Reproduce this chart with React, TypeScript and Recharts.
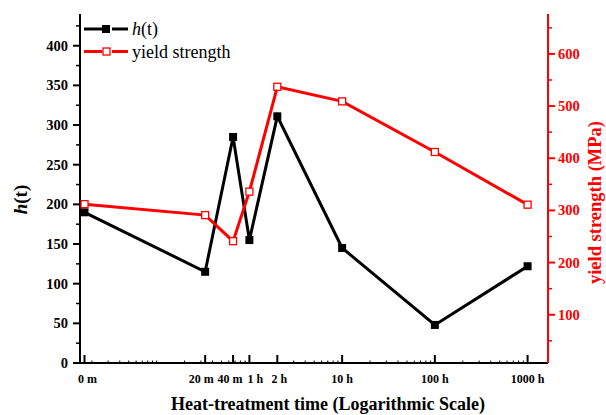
import React from 'react';
import { LineChart, Line, XAxis, YAxis, Legend, Label } from 'recharts';

// ---- data ----
const timeLabels = ['0 m', '20 m', '40 m', '1 h', '2 h', '10 h', '100 h', '1000 h'];
const timeHours = [1 / 60, 1 / 3, 2 / 3, 1, 2, 10, 100, 1000];
const hValues = [190, 115, 285, 155, 311, 145, 48, 122];
const yieldValues = [312, 291, 241, 336, 537, 509, 412, 311];

const minorHours = [
  0.02, 0.03, 0.04, 0.05, 0.06, 0.07, 0.08, 0.09,
  0.1, 0.2, 0.3, 0.4, 0.5, 0.6, 0.7, 0.8, 0.9,
  3, 4, 5, 6, 7, 8, 9,
  20, 30, 40, 50, 60, 70, 80, 90,
  200, 300, 400, 500, 600, 700, 800, 900,
];
const leftTicks = [0, 25, 50, 75, 100, 125, 150, 175, 200, 225, 250, 275, 300, 325, 350, 375, 400, 425];
const rightTicks = [50, 100, 150, 200, 250, 300, 350, 400, 450, 500, 550, 600, 650];

const xDomain = [0.0149, 1660];
const leftDomain = [0, 440];
const rightDomain = [7.5, 676.5];

const data = timeHours.map((t, i) => ({ t, h: hValues[i], ys: yieldValues[i] }));
const xTicks = [...timeHours, ...minorHours].sort((a, b) => a - b);

const SERIF = '"Liberation Serif", "Times New Roman", serif';
const RED = '#ff0000';

// horizontal nudges of crowded tick labels (style only)
const labelNudge: Record<string, number> = { '0 m': 3, '20 m': -4, '40 m': -3, '1 h': 6, '2 h': 2 };

const XTickBottom = (props: any) => {
  const { x, y, payload } = props;
  const idx = timeHours.indexOf(payload.value);
  if (idx >= 0) {
    const lbl = timeLabels[idx];
    return (
      <g>
        <line x1={x} x2={x} y1={y} y2={y - 8} stroke="#000" strokeWidth={2} />
        <text x={x + (labelNudge[lbl] || 0)} y={y + 20} textAnchor="middle" fontFamily={SERIF} fontWeight="bold" fontSize={12} fill="#000">
          {lbl}
        </text>
      </g>
    );
  }
  return <line x1={x} x2={x} y1={y} y2={y - 2.5} stroke="#000" strokeWidth={1} />;
};

const XTickTop = (props: any) => {
  const { x, y } = props;
  return <line x1={x} x2={x} y1={y} y2={y + 2.5} stroke="#000" strokeWidth={1} />;
};

const LeftTick = (props: any) => {
  const { x, y, payload } = props;
  const v = payload.value;
  if (v % 50 === 0) {
    return (
      <g>
        <line x1={x} x2={x - 7} y1={y} y2={y} stroke="#000" strokeWidth={2} />
        <text x={x - 12} y={y + 5} textAnchor="end" fontFamily={SERIF} fontWeight="bold" fontSize={14.5} fill="#000">
          {v}
        </text>
      </g>
    );
  }
  return <line x1={x} x2={x - 4} y1={y} y2={y} stroke="#000" strokeWidth={1.5} />;
};

const RightTick = (props: any) => {
  const { x, y, payload } = props;
  const v = payload.value;
  if (v % 100 === 0) {
    return (
      <g>
        <line x1={x} x2={x + 7} y1={y} y2={y} stroke={RED} strokeWidth={2} />
        <text x={x + 10} y={y + 5} textAnchor="start" fontFamily={SERIF} fontWeight="bold" fontSize={14.5} fill={RED}>
          {v}
        </text>
      </g>
    );
  }
  return <line x1={x} x2={x + 4} y1={y} y2={y} stroke={RED} strokeWidth={1.5} />;
};

const BlackDot = (p: any) => (
  <rect key={`b${p.index}`} x={p.cx - 4} y={p.cy - 4} width={8} height={8} fill="#000" />
);
const RedDot = (p: any) => (
  <rect key={`r${p.index}`} x={p.cx - 3.5} y={p.cy - 3.5} width={7} height={7} fill="#fff" stroke={RED} strokeWidth={1.3} />
);

const renderLegend = () => (
  <svg width={200} height={50} style={{ display: 'block' }}>
    <g>
      <line x1={2} x2={20} y1={11} y2={11} stroke="#000" strokeWidth={3} />
      <rect x={20} y={7} width={8} height={8} fill="#000" />
      <line x1={30} x2={46} y1={11} y2={11} stroke="#000" strokeWidth={3} />
      <text x={50} y={17} fontFamily={SERIF} fontSize={18} fill="#000">
        <tspan fontStyle="italic">h</tspan>(t)
      </text>
    </g>
    <g>
      <line x1={2} x2={20} y1={33.5} y2={33.5} stroke={RED} strokeWidth={3} />
      <rect x={21} y={30} width={7} height={7} fill="#fff" stroke={RED} strokeWidth={1.3} />
      <line x1={30} x2={46} y1={33.5} y2={33.5} stroke={RED} strokeWidth={3} />
      <text x={50} y={39.5} fontFamily={SERIF} fontSize={18} fill="#000">yield strength</text>
    </g>
  </svg>
);

const XTitle = (props: any) => {
  const vb = props.viewBox;
  return (
    <text x={vb.x + vb.width / 2 + 14} y={vb.y + vb.height - 5} textAnchor="middle" fontFamily={SERIF} fontWeight="bold" fontSize={18} fill="#000">
      Heat-treatment time (Logarithmic Scale)
    </text>
  );
};

const LeftTitle = (props: any) => {
  const vb = props.viewBox;
  const cx = vb.x + 27;
  const cy = vb.y + vb.height / 2 + 11;
  return (
    <text x={cx} y={cy} transform={`rotate(-90 ${cx} ${cy})`} textAnchor="middle" fontFamily={SERIF} fontWeight="bold" fontSize={19} fill="#000">
      <tspan fontStyle="italic">h</tspan>(t)
    </text>
  );
};

const RightTitle = (props: any) => {
  const vb = props.viewBox;
  const cx = vb.x + vb.width - 5;
  const cy = vb.y + vb.height / 2 + 14;
  return (
    <text x={cx} y={cy} transform={`rotate(-90 ${cx} ${cy})`} textAnchor="middle" fontFamily={SERIF} fontWeight="bold" fontSize={18.5} fill={RED}>
      yield strength (MPa)
    </text>
  );
};

export default function App() {
  return (
    <div style={{ position: 'absolute', left: 0, top: 0, width: 606, height: 415, background: '#fff' }}>
      <LineChart width={606} height={415} data={data} margin={{ top: 14, right: 0, bottom: 0, left: 0 }}>
        <XAxis
          xAxisId="bottom"
          dataKey="t"
          type="number"
          scale="log"
          domain={xDomain}
          allowDataOverflow
          ticks={xTicks}
          interval={0}
          height={52}
          tickSize={0}
          tickMargin={0}
          tickLine={false}
          tick={<XTickBottom />}
          axisLine={{ stroke: '#000', strokeWidth: 2 }}
        >
          <Label content={<XTitle />} />
        </XAxis>
        <XAxis
          xAxisId="top"
          orientation="top"
          dataKey="t"
          type="number"
          scale="log"
          domain={xDomain}
          allowDataOverflow
          ticks={xTicks}
          interval={0}
          height={0}
          tickSize={0}
          tickMargin={0}
          tickLine={false}
          tick={<XTickTop />}
          axisLine={{ stroke: '#000', strokeWidth: 2 }}
        />
        <YAxis
          yAxisId="left"
          orientation="left"
          type="number"
          domain={leftDomain}
          allowDataOverflow
          ticks={leftTicks}
          interval={0}
          width={80}
          tickSize={0}
          tickMargin={0}
          tickLine={false}
          tick={<LeftTick />}
          axisLine={{ stroke: '#000', strokeWidth: 2 }}
        >
          <Label content={<LeftTitle />} />
        </YAxis>
        <YAxis
          yAxisId="right"
          orientation="right"
          type="number"
          domain={rightDomain}
          allowDataOverflow
          ticks={rightTicks}
          interval={0}
          width={58}
          tickSize={0}
          tickMargin={0}
          tickLine={false}
          tick={<RightTick />}
          axisLine={{ stroke: RED, strokeWidth: 2 }}
        >
          <Label content={<RightTitle />} />
        </YAxis>
        <Legend
          layout="vertical"
          align="center"
          verticalAlign="middle"
          wrapperStyle={{ left: 82, top: 18, width: 200, height: 50 }}
          content={renderLegend}
        />
        <Line
          xAxisId="bottom"
          yAxisId="left"
          dataKey="h"
          name="h(t)"
          stroke="#000"
          strokeWidth={3}
          dot={BlackDot}
          activeDot={false}
          isAnimationActive={false}
        />
        <Line
          xAxisId="bottom"
          yAxisId="right"
          dataKey="ys"
          name="yield strength"
          stroke={RED}
          strokeWidth={3}
          dot={RedDot}
          activeDot={false}
          isAnimationActive={false}
        />
      </LineChart>
    </div>
  );
}
